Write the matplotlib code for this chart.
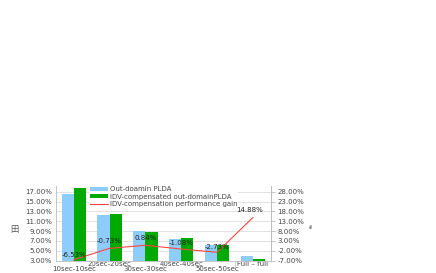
import numpy as np
import matplotlib
matplotlib.use('Agg')
from matplotlib import pyplot as plt
from matplotlib.ticker import FixedLocator

categories = ['10sec-10sec', '20sec-20sec', '30sec-30sec',
              '40sec-40sec', '50sec-50sec', 'Full – full']
out_domain = [16.5, 12.35, 9.1, 7.4, 6.1, 3.95]
idv_comp = [17.7, 12.5, 8.9, 7.55, 6.25, 3.35]
gain = [-6.53, -0.73, 0.84, -1.08, -2.73, 14.88]
gain_labels = ['-6.53%', '-0.73%', '0.84%', '-1.08%', '-2.73%', '14.88%']

left_ticks = [3, 5, 7, 9, 11, 13, 15, 17]
right_ticks = [-7, -2, 3, 8, 13, 18, 23, 28]

blue = '#8ecdfb'
green = '#00aa00'
red = '#ff4444'
grey = '#444444'

fig = plt.figure(figsize=(4.36, 2.73), dpi=100)
ax = fig.add_axes([0.128, 0.045, 0.493, 0.2745])

x = np.arange(len(categories))
w = 0.34
ax.bar(x - w / 2, out_domain, w, color=blue, label='Out-doamin PLDA', zorder=2)
ax.bar(x + w / 2, idv_comp, w, color=green,
       label='IDV-compensated out-domainPLDA', zorder=2)

ax.set_xlim(-0.5, 5.5)
ax.set_ylim(3, 18.2)
ax.set_yticks(left_ticks)
ax.set_yticklabels(['%.2f%%' % v for v in left_ticks], fontsize=5, color=grey)
ax.grid(axis='y', color='#dddddd', linewidth=0.6, zorder=0)
ax.tick_params(axis='y', length=0, pad=3)

ax.set_xticks(x)
ax.set_xticklabels(categories, fontsize=5, color=grey)
ax.tick_params(axis='x', length=0)
for i, tick in enumerate(ax.xaxis.get_major_ticks()):
    tick.set_pad(3.8 if i % 2 == 0 else 0.5)
ax.xaxis.set_minor_locator(FixedLocator(x[:-1] + 0.5))
ax.tick_params(axis='x', which='minor', length=4, color='#cccccc', width=0.6)

ax.spines['top'].set_visible(False)
for s in ['left', 'bottom', 'right']:
    ax.spines[s].set_color('#bbbbbb')
    ax.spines[s].set_linewidth(0.6)

ax2 = ax.twinx()
ax2.set_ylim(2.5 * 3 - 14.5, 2.5 * 18.2 - 14.5)
ax2.plot(x, gain, color=red, linewidth=0.8,
         label='IDV-compensation performance gain', zorder=3)
ax2.set_yticks(right_ticks)
ax2.set_yticklabels(['%.2f%%' % v for v in right_ticks], fontsize=5, color=grey)
ax2.tick_params(axis='y', length=3, width=0.6, color='#bbbbbb', pad=2)
ax2.spines['top'].set_visible(False)
ax2.spines['left'].set_visible(False)
ax2.spines['bottom'].set_visible(False)
ax2.spines['right'].set_color('#bbbbbb')
ax2.spines['right'].set_linewidth(0.6)

offsets = [(0, 1), (0, 3), (0, 3), (0, 2), (0, 2), (-2, 3)]
for xi, yi, lab, off in zip(x, gain, gain_labels, offsets):
    ax2.annotate(lab, (xi, yi), xytext=off, textcoords='offset points',
                 ha='center', va='bottom', fontsize=5, color='#222222',
                 zorder=6)

h1, l1 = ax.get_legend_handles_labels()
h2, l2 = ax2.get_legend_handles_labels()
leg = ax2.legend(h1 + h2, l1 + l2, loc='upper left',
                 bbox_to_anchor=(0.203, 0.322), bbox_transform=fig.transFigure,
                 fontsize=5, frameon=True, fancybox=False, edgecolor='none',
                 facecolor='white', framealpha=1, handlelength=2.6,
                 handleheight=0.5, labelspacing=0.22, borderpad=0.15,
                 handletextpad=0.3, borderaxespad=0)
leg.set_zorder(5)
for t in leg.get_texts():
    t.set_color(grey)

fig.text(0.033, 0.16, '田', fontsize=6, color='#555555', ha='center',
         va='center', family=['Noto Sans CJK SC', 'DejaVu Sans'])
fig.text(0.713, 0.165, '#', fontsize=4, color='#555555', ha='center',
         va='center', rotation=30)

fig.savefig('out.png', dpi=100)
